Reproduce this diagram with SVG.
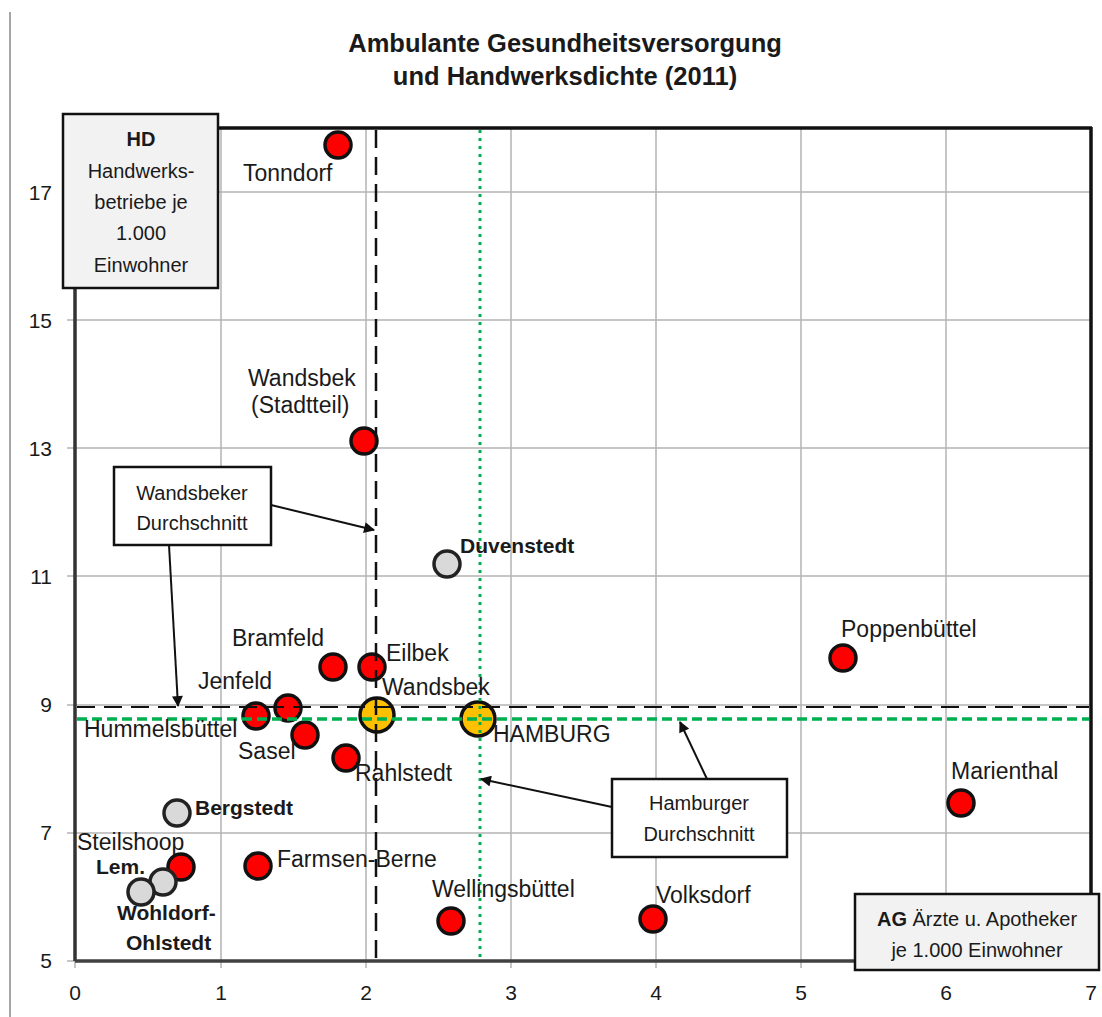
<svg xmlns="http://www.w3.org/2000/svg" width="1102" height="1017" viewBox="0 0 1102 1017">
<style>
text{font-family:"Liberation Sans",Arial,sans-serif;fill:#1a1a1a}
.t{font-weight:bold;font-size:25.5px;text-anchor:middle}
.axy{font-size:21px;text-anchor:end}
.axx{font-size:21px;text-anchor:middle}
.lb{font-size:23px}
.lbb{font-size:21px;font-weight:bold}
.bx{font-size:20px;text-anchor:middle}
.grid{stroke:#b4b4b4;stroke-width:1.5;fill:none}
.red{fill:#ff0000;stroke:#111;stroke-width:3.5}
.gry{fill:#d9d9d9;stroke:#222;stroke-width:3.5}
.org{fill:#ffc000;stroke:#111;stroke-width:3.5}
.arr{stroke:#111;stroke-width:2;fill:none;marker-end:url(#ah)}
.box{fill:#ffffff;stroke:#111;stroke-width:2.5}
.gbox{fill:#f2f2f2;stroke:#111;stroke-width:2.5}
</style>
<defs>
<marker id="ah" viewBox="0 0 10 10" refX="9" refY="5" markerWidth="12" markerHeight="11" markerUnits="userSpaceOnUse" orient="auto">
<path d="M0,0 L10,5 L0,10 z" fill="#111"/>
</marker>
</defs>
<rect width="1102" height="1017" fill="#ffffff"/>
<line x1="10" y1="12" x2="10" y2="1017" stroke="#a6a6a6" stroke-width="2"/>

<g id="title">
<text class="t" x="565" y="52">Ambulante Gesundheitsversorgung</text>
<text class="t" x="565" y="85">und Handwerksdichte (2011)</text>
</g>

<g id="grid">
<path class="grid" d="M221,128V968 M366,128V968 M511,128V968 M656,128V968 M801,128V968 M946,128V968 M75,961V968 M1091,961V968"/>
<path class="grid" d="M67,192H1091 M67,320H1091 M67,448H1091 M67,576H1091 M67,705H1091 M67,833H1091 M67,961H75"/>
</g>

<g id="axes">
<line x1="75" y1="288" x2="75" y2="961" stroke="#333" stroke-width="3.5"/>
<line x1="75" y1="961" x2="856" y2="961" stroke="#404040" stroke-width="3.5"/>
<line x1="218" y1="128" x2="1092" y2="128" stroke="#111" stroke-width="3.5"/>
<line x1="1091" y1="127" x2="1091" y2="895" stroke="#111" stroke-width="3.5"/>
<text class="axy" x="52" y="200">17</text>
<text class="axy" x="52" y="328">15</text>
<text class="axy" x="52" y="456">13</text>
<text class="axy" x="52" y="584">11</text>
<text class="axy" x="52" y="712">9</text>
<text class="axy" x="52" y="840">7</text>
<text class="axy" x="52" y="968">5</text>
<text class="axx" x="75" y="1000">0</text>
<text class="axx" x="221" y="1000">1</text>
<text class="axx" x="366" y="1000">2</text>
<text class="axx" x="511" y="1000">3</text>
<text class="axx" x="656" y="1000">4</text>
<text class="axx" x="801" y="1000">5</text>
<text class="axx" x="946" y="1000">6</text>
<text class="axx" x="1091" y="1000">7</text>
</g>

<g id="points">
<circle id="p-tonndorf" class="red" cx="338" cy="145" r="13"/>
<circle id="p-wandsbek-stadtteil" class="red" cx="364" cy="441" r="13"/>
<circle id="p-duvenstedt" class="gry" cx="447" cy="564" r="13"/>
<circle id="p-poppenbuettel" class="red" cx="843" cy="658" r="13"/>
<circle id="p-marienthal" class="red" cx="961" cy="803" r="13"/>
<circle id="p-bramfeld" class="red" cx="333" cy="667" r="13"/>
<circle id="p-eilbek" class="red" cx="372" cy="667" r="13"/>
<circle id="p-jenfeld" class="red" cx="288" cy="708" r="13"/>
<circle id="p-hummelsbuettel" class="red" cx="256" cy="716" r="13"/>
<circle id="p-sasel" class="red" cx="305" cy="735" r="13"/>
<circle id="p-rahlstedt" class="red" cx="346" cy="758" r="13"/>
<circle id="p-bergstedt" class="gry" cx="177" cy="813" r="13"/>
<circle id="p-steilshoop" class="red" cx="181" cy="867" r="13"/>
<circle id="p-lem" class="gry" cx="163" cy="882" r="13"/>
<circle id="p-wohldorf" class="gry" cx="141" cy="892" r="13"/>
<circle id="p-farmsen" class="red" cx="258" cy="866" r="13"/>
<circle id="p-wellingsbuettel" class="red" cx="451" cy="921" r="13"/>
<circle id="p-volksdorf" class="red" cx="653" cy="919" r="13"/>
<circle id="p-wandsbek" class="org" cx="377" cy="715" r="17"/>
<circle id="p-hamburg" class="org" cx="478" cy="719" r="17"/>
</g>

<g id="averages">
<line x1="376" y1="130" x2="376" y2="961" stroke="#111" stroke-width="2.5" stroke-dasharray="18,9"/>
<line x1="77" y1="707" x2="1089" y2="707" stroke="#111" stroke-width="2" stroke-dasharray="18,9"/>
<line x1="77" y1="719" x2="1089" y2="719" stroke="#00b050" stroke-width="3.5" stroke-dasharray="10,5"/>
<line x1="480" y1="130" x2="480" y2="961" stroke="#00b050" stroke-width="3" stroke-dasharray="3,5"/>
</g>

<g id="labels">
<text class="lb" x="243" y="181">Tonndorf</text>
<text class="lb" x="248" y="386">Wandsbek</text>
<text class="lb" x="251" y="413">(Stadtteil)</text>
<text class="lbb" x="460" y="553">Duvenstedt</text>
<text class="lb" x="841" y="637">Poppenbüttel</text>
<text class="lb" x="951" y="779">Marienthal</text>
<text class="lb" x="232" y="646">Bramfeld</text>
<text class="lb" x="386" y="661">Eilbek</text>
<text class="lb" x="382" y="695">Wandsbek</text>
<text class="lb" x="198" y="689">Jenfeld</text>
<text class="lb" x="84" y="737">Hummelsbüttel</text>
<text class="lb" x="238" y="759">Sasel</text>
<text class="lb" x="355" y="781">Rahlstedt</text>
<text class="lb" x="493" y="742">HAMBURG</text>
<text class="lbb" x="195" y="815">Bergstedt</text>
<text class="lb" x="77" y="850">Steilshoop</text>
<text class="lbb" x="96" y="874">Lem.</text>
<text class="lbb" x="117" y="920">Wohldorf-</text>
<text class="lbb" x="126" y="950">Ohlstedt</text>
<text class="lb" x="277" y="867">Farmsen-Berne</text>
<text class="lb" x="432" y="897">Wellingsbüttel</text>
<text class="lb" x="656" y="903">Volksdorf</text>
</g>

<g id="connectors">
<line class="arr" x1="271" y1="505" x2="374" y2="530"/>
<line class="arr" x1="169" y1="545" x2="178" y2="706"/>
<line class="arr" x1="612" y1="807" x2="481" y2="779"/>
<line class="arr" x1="707" y1="779" x2="680" y2="722"/>
</g>

<g id="hd-box">
<rect class="gbox" x="63" y="114" width="155" height="174"/>
<text class="bx" x="141" y="146" font-weight="bold">HD</text>
<text class="bx" x="141" y="178">Handwerks-</text>
<text class="bx" x="141" y="209">betriebe je</text>
<text class="bx" x="141" y="240">1.000</text>
<text class="bx" x="141" y="272">Einwohner</text>
</g>

<g id="wandsbeker-box">
<rect class="box" x="114" y="467" width="157" height="78"/>
<text class="bx" x="192" y="500">Wandsbeker</text>
<text class="bx" x="192" y="530">Durchschnitt</text>
</g>

<g id="hamburger-box">
<rect class="box" x="612" y="779" width="175" height="78"/>
<text class="bx" x="699" y="810">Hamburger</text>
<text class="bx" x="699" y="841">Durchschnitt</text>
</g>

<g id="ag-box">
<rect class="gbox" x="855" y="894" width="244" height="76"/>
<text class="bx" x="977" y="926"><tspan font-weight="bold">AG</tspan> Ärzte u. Apotheker</text>
<text class="bx" x="977" y="957">je 1.000 Einwohner</text>
</g>
</svg>
